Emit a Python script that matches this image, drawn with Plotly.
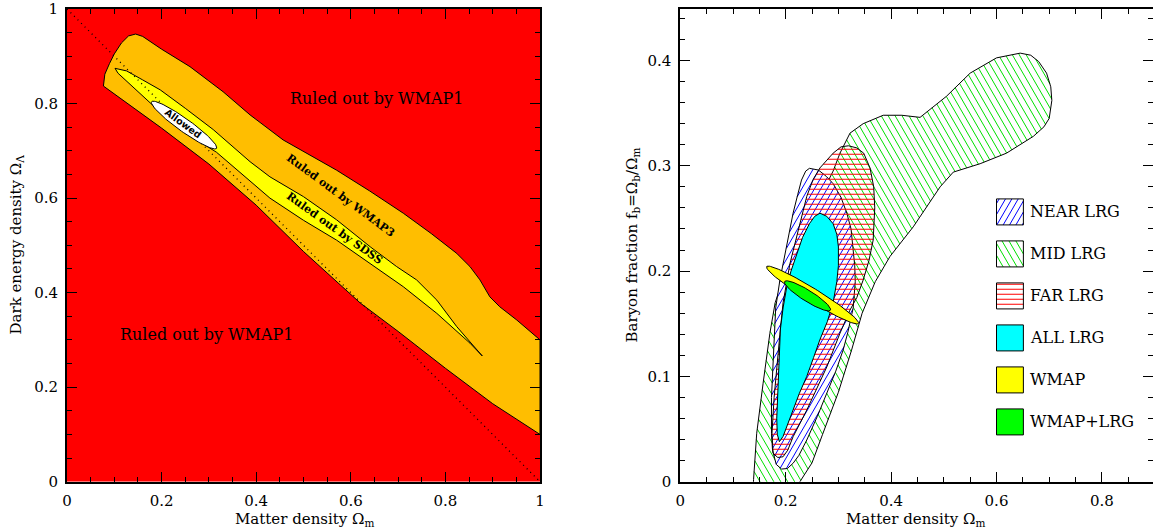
import numpy as np
import plotly.graph_objects as go

W, H = 1153, 531

# ---------------- left panel: Omega_m / Omega_Lambda plane ----------------
wmap3_x = [0.077, 0.080, 0.090, 0.100, 0.115, 0.130, 0.145, 0.160, 0.200, 0.260, 0.330,
           0.387, 0.457, 0.515, 0.570, 0.640, 0.711, 0.770, 0.824, 0.852, 0.873, 0.894,
           0.915, 0.951, 0.980, 1.000, 1.000, 0.900, 0.800, 0.700, 0.620, 0.500, 0.400,
           0.300, 0.200, 0.120, 0.084, 0.077]
wmap3_y = [0.837, 0.862, 0.885, 0.905, 0.928, 0.943, 0.947, 0.942, 0.915, 0.878, 0.825,
           0.776, 0.723, 0.690, 0.659, 0.615, 0.568, 0.525, 0.483, 0.455, 0.427, 0.391,
           0.370, 0.342, 0.318, 0.300, 0.100, 0.165, 0.240, 0.318, 0.378, 0.487, 0.585,
           0.672, 0.748, 0.805, 0.832, 0.837]

sdss_x = [0.1015, 0.126, 0.160, 0.197, 0.250, 0.309, 0.387, 0.429, 0.500, 0.570, 0.641,
          0.697, 0.739, 0.782, 0.824, 0.866, 0.878, 0.852, 0.782, 0.711, 0.641, 0.570,
          0.500, 0.429, 0.316, 0.250, 0.197, 0.150, 0.108, 0.1015]
sdss_y = [0.8745, 0.869, 0.850, 0.829, 0.790, 0.745, 0.677, 0.645, 0.603, 0.554, 0.497,
          0.455, 0.427, 0.384, 0.328, 0.279, 0.266, 0.293, 0.356, 0.4125, 0.462, 0.511,
          0.553, 0.600, 0.697, 0.738, 0.782, 0.825, 0.864, 0.8745]

# "Allowed" ellipse: centre (data), semi-axes (px), tilt (deg, clockwise on screen)
allowed_center = (0.2475, 0.7545)
allowed_axes_px = (40.0, 6.5)
allowed_tilt = 35.6

flat_x = [0.0, 1.0]
flat_y = [1.0, 0.0]

left_ticks = [0, 0.2, 0.4, 0.6, 0.8, 1]
left_ticktext = ["0", "0.2", "0.4", "0.6", "0.8", "1"]

# ---------------- right panel: baryon fraction vs Omega_m ----------------
mid_x = [0.150, 0.138, 0.139, 0.145, 0.157, 0.170, 0.180, 0.200, 0.230, 0.260, 0.280,
         0.290, 0.303, 0.322, 0.347, 0.385, 0.420, 0.455, 0.505, 0.550, 0.600, 0.645,
         0.665, 0.680, 0.695, 0.703, 0.705, 0.700, 0.690, 0.670, 0.619, 0.569, 0.518,
         0.493, 0.442, 0.398, 0.370, 0.345, 0.325, 0.300, 0.270, 0.250, 0.227, 0.210,
         0.180, 0.150]
mid_y = [-0.030, -0.012, 0.002, 0.046, 0.093, 0.141, 0.170, 0.200, 0.235, 0.265, 0.285,
         0.295, 0.312, 0.331, 0.340, 0.348, 0.348, 0.346, 0.366, 0.388, 0.4025, 0.407,
         0.405, 0.399, 0.388, 0.375, 0.362, 0.345, 0.337, 0.328, 0.312, 0.302, 0.294,
         0.280, 0.242, 0.214, 0.190, 0.160, 0.125, 0.085, 0.045, 0.018, 0.000, -0.025,
         -0.035, -0.030]

near_x = [0.245, 0.262, 0.277, 0.290, 0.305, 0.316, 0.324, 0.328, 0.331, 0.332, 0.328,
          0.318, 0.309, 0.295, 0.278, 0.260, 0.240, 0.225, 0.214, 0.203, 0.192, 0.182,
          0.175, 0.173, 0.173, 0.176, 0.178, 0.181, 0.189, 0.202, 0.214, 0.223, 0.230,
          0.238, 0.245]
near_y = [0.2976, 0.296, 0.290, 0.283, 0.270, 0.255, 0.240, 0.223, 0.205, 0.190, 0.165,
          0.142, 0.125, 0.105, 0.084, 0.062, 0.0396, 0.025, 0.0175, 0.0125, 0.012, 0.0165,
          0.030, 0.046, 0.080, 0.109, 0.140, 0.165, 0.1915, 0.223, 0.255, 0.273, 0.2865,
          0.295, 0.2976]

far_x = [0.319, 0.335, 0.348, 0.360, 0.367, 0.369, 0.366, 0.358, 0.347, 0.335, 0.322,
         0.303, 0.278, 0.240, 0.214, 0.204, 0.195, 0.185, 0.176, 0.174, 0.178, 0.183,
         0.189, 0.195, 0.208, 0.224, 0.240, 0.252, 0.265, 0.290, 0.305, 0.319]
far_y = [0.319, 0.317, 0.312, 0.298, 0.280, 0.260, 0.2295, 0.210, 0.1915, 0.175, 0.163,
         0.141, 0.109, 0.068, 0.0427, 0.030, 0.0237, 0.023, 0.027, 0.046, 0.080, 0.109,
         0.140, 0.170, 0.207, 0.239, 0.271, 0.287, 0.298, 0.312, 0.318, 0.319]

all_x = [0.265, 0.278, 0.290, 0.297, 0.300, 0.300, 0.297, 0.290, 0.279, 0.265, 0.253,
         0.240, 0.226, 0.214, 0.203, 0.195, 0.188, 0.184, 0.183, 0.185, 0.187, 0.190,
         0.195, 0.202, 0.210, 0.221, 0.232, 0.245, 0.255, 0.265]
all_y = [0.255, 0.252, 0.245, 0.235, 0.223, 0.205, 0.190, 0.170, 0.152, 0.135, 0.118,
         0.100, 0.084, 0.068, 0.055, 0.043, 0.038, 0.045, 0.060, 0.090, 0.120, 0.145,
         0.165, 0.185, 0.200, 0.215, 0.232, 0.245, 0.252, 0.255]

wmap_center = (0.2509, 0.1773)
wmap_axes_px = (54.0, 6.5)
wmap_tilt = 31.7

joint_center = (0.2414, 0.1765)
joint_axes_px = (27.0, 5.5)
joint_tilt = 32.0

right_xticks = [0, 0.2, 0.4, 0.6, 0.8]
right_xticktext = ["0", "0.2", "0.4", "0.6", "0.8"]
right_yticks = [0, 0.1, 0.2, 0.3, 0.4]
right_yticktext = ["0", "0.1", "0.2", "0.3", "0.4"]

legend_labels = ["NEAR LRG", "MID LRG", "FAR LRG", "ALL LRG", "WMAP", "WMAP+LRG"]

# ---------------- geometry of the two panels ----------------
PLOT_TOP, PLOT_BOTTOM = 9.0, 481.7
L_LEFT, L_RIGHT = 67.0, 540.0
R_LEFT = 680.3
R_PX_PER_X = 527.0
R_PX_PER_Y = 1053.0
R_XMAX = (W - R_LEFT) / R_PX_PER_X
R_YMAX = (PLOT_BOTTOM - PLOT_TOP) / R_PX_PER_Y
L_PX_PER_X = (L_RIGHT - L_LEFT) / 1.0
L_PX_PER_Y = (PLOT_BOTTOM - PLOT_TOP) / 1.0

ydom = [(H - PLOT_BOTTOM) / H, (H - PLOT_TOP) / H]

SERIF = "DejaVu Serif"
ORANGE = "#ffbe00"

# hatch styles: (line angle in screen degrees, perpendicular spacing px, colour, width)
HATCH_NEAR = (60.0, 5.5, "#0000ff", 1.0)
HATCH_MID = (120.0, 6.0, "#00e000", 1.0)
HATCH_FAR = (0.0, 5.0, "#ff0000", 1.1)


def ellipse(center, axes_px, tilt_deg, sx, sy, n=120):
    t = np.linspace(0, 2 * np.pi, n)
    a, b = axes_px
    th = np.radians(tilt_deg)
    u, v = a * np.cos(t), b * np.sin(t)
    dx = u * np.cos(th) - v * np.sin(th)
    dy = u * np.sin(th) + v * np.cos(th)
    return center[0] + dx / sx, center[1] - dy / sy


def hatch(xs, ys, style, sx, sy):
    """Parallel hatch segments clipped to a polygon, laid out in screen pixels."""
    ang, gap = np.radians(style[0]), style[1]
    px = np.asarray(xs) * sx
    py = np.asarray(ys) * sy
    d = np.array([np.cos(ang), np.sin(ang)])
    nrm = np.array([-np.sin(ang), np.cos(ang)])
    proj_n = px * nrm[0] + py * nrm[1]
    out_x, out_y = [], []
    k0 = int(np.floor(proj_n.min() / gap))
    k1 = int(np.ceil(proj_n.max() / gap))
    for k in range(k0, k1 + 1):
        c = k * gap + 0.5 * gap
        hits = []
        for i in range(len(px) - 1):
            a1, a2 = proj_n[i] - c, proj_n[i + 1] - c
            if a1 * a2 < 0:
                t = a1 / (a1 - a2)
                hx = px[i] + t * (px[i + 1] - px[i])
                hy = py[i] + t * (py[i + 1] - py[i])
                hits.append((hx * d[0] + hy * d[1], hx, hy))
        hits.sort()
        for j in range(0, len(hits) - 1, 2):
            out_x += [hits[j][1] / sx, hits[j + 1][1] / sx, None]
            out_y += [hits[j][2] / sy, hits[j + 1][2] / sy, None]
    return out_x, out_y


def add_region(xs, ys, axes, fill=None, hatch_style=None, sx=1.0, sy=1.0):
    xa, ya = axes
    if fill is not None:
        fig.add_trace(go.Scatter(x=xs, y=ys, fill="toself", fillcolor=fill, mode="lines",
                                 line=dict(width=0, color=fill), xaxis=xa, yaxis=ya,
                                 hoverinfo="skip"))
    if hatch_style is not None:
        hx, hy = hatch(xs, ys, hatch_style, sx, sy)
        fig.add_trace(go.Scatter(x=hx, y=hy, mode="lines",
                                 line=dict(color=hatch_style[2], width=hatch_style[3]),
                                 xaxis=xa, yaxis=ya, hoverinfo="skip"))
    fig.add_trace(go.Scatter(x=xs, y=ys, mode="lines", line=dict(color="black", width=1),
                             xaxis=xa, yaxis=ya, hoverinfo="skip"))


fig = go.Figure()
LEFT = ("x", "y")
RIGHT = ("x2", "y2")

# left panel layers
add_region(wmap3_x, wmap3_y, LEFT, fill=ORANGE)
add_region(sdss_x, sdss_y, LEFT, fill="#ffff00")
fig.add_trace(go.Scatter(x=flat_x, y=flat_y, mode="lines",
                         line=dict(color="black", width=1.3, dash="1px,4px"),
                         xaxis="x", yaxis="y", hoverinfo="skip"))
ex, ey = ellipse(allowed_center, allowed_axes_px, allowed_tilt, L_PX_PER_X, L_PX_PER_Y)
add_region(list(ex), list(ey), LEFT, fill="white")

# right panel layers
add_region(mid_x, mid_y, RIGHT, hatch_style=HATCH_MID, sx=R_PX_PER_X, sy=R_PX_PER_Y)
add_region(near_x, near_y, RIGHT, fill="white", hatch_style=HATCH_NEAR, sx=R_PX_PER_X, sy=R_PX_PER_Y)
add_region(far_x, far_y, RIGHT, hatch_style=HATCH_FAR, sx=R_PX_PER_X, sy=R_PX_PER_Y)
add_region(all_x, all_y, RIGHT, fill="#00ffff")
wx, wy = ellipse(wmap_center, wmap_axes_px, wmap_tilt, R_PX_PER_X, R_PX_PER_Y)
add_region(list(wx), list(wy), RIGHT, fill="#ffff00")
jx, jy = ellipse(joint_center, joint_axes_px, joint_tilt, R_PX_PER_X, R_PX_PER_Y)
add_region(list(jx), list(jy), RIGHT, fill="#00ff00")

# legend swatches inside the right panel
swatch_styles = [
    dict(fill="white", hatch_style=HATCH_NEAR),
    dict(fill="white", hatch_style=HATCH_MID),
    dict(fill="white", hatch_style=HATCH_FAR),
    dict(fill="#00ffff"),
    dict(fill="#ffff00"),
    dict(fill="#00ff00"),
]
box_x0, box_x1 = 0.600, 0.651
box_h = 26.0 / R_PX_PER_Y
row_top = 0.2562
row_step = 42.0 / R_PX_PER_Y
annotations = []
for i, (label, style) in enumerate(zip(legend_labels, swatch_styles)):
    cy = row_top - i * row_step
    bx = [box_x0, box_x1, box_x1, box_x0, box_x0]
    by = [cy - box_h / 2, cy - box_h / 2, cy + box_h / 2, cy + box_h / 2, cy - box_h / 2]
    add_region(bx, by, RIGHT, sx=R_PX_PER_X, sy=R_PX_PER_Y, **style)
    annotations.append(dict(x=0.659, y=cy, xref="x2", yref="y2", text=label, showarrow=False,
                            xanchor="left", yanchor="middle",
                            font=dict(family=SERIF, size=16, color="black")))

# text labels in the left panel
annotations += [
    dict(x=0.655, y=0.81, xref="x", yref="y", text="Ruled out by WMAP1", showarrow=False,
         font=dict(family=SERIF, size=16, color="black")),
    dict(x=0.294, y=0.312, xref="x", yref="y", text="Ruled out by WMAP1", showarrow=False,
         font=dict(family=SERIF, size=16, color="black")),
    dict(x=0.578, y=0.605, xref="x", yref="y", text="<b>Ruled out by WMAP3</b>", showarrow=False,
         textangle=36.5, font=dict(family=SERIF, size=11, color="black")),
    dict(x=0.566, y=0.536, xref="x", yref="y", text="<b>Ruled out by SDSS</b>", showarrow=False,
         textangle=35.6, font=dict(family=SERIF, size=11, color="black")),
    dict(x=0.246, y=0.758, xref="x", yref="y", text="<b>Allowed</b>", showarrow=False,
         textangle=36, font=dict(family="DejaVu Sans", size=9.5, color="black")),
]

# axis titles
annotations += [
    dict(x=305 / W, y=1 - 508 / H, xref="paper", yref="paper", showarrow=False,
         xanchor="center", yanchor="top",
         text="Matter density Ω<sub>m</sub>", font=dict(family=SERIF, size=15, color="black")),
    dict(x=916 / W, y=1 - 508 / H, xref="paper", yref="paper", showarrow=False,
         xanchor="center", yanchor="top",
         text="Matter density Ω<sub>m</sub>", font=dict(family=SERIF, size=15, color="black")),
    dict(x=5 / W, y=1 - 245 / H, xref="paper", yref="paper", showarrow=False, textangle=-90,
         xanchor="left", yanchor="middle",
         text="Dark energy density Ω<sub>Λ</sub>", font=dict(family=SERIF, size=15, color="black")),
    dict(x=621 / W, y=1 - 245 / H, xref="paper", yref="paper", showarrow=False, textangle=-90,
         xanchor="left", yanchor="middle",
         text="Baryon fraction f<sub>b</sub>=Ω<sub>b</sub>/Ω<sub>m</sub>",
         font=dict(family=SERIF, size=15, color="black")),
]

axis_common = dict(showgrid=False, zeroline=False, showline=True, linecolor="black", linewidth=2,
                   mirror="ticks", ticks="inside", ticklen=10, tickwidth=1, tickcolor="black",
                   automargin=False, ticklabelstandoff=4,
                   tickfont=dict(family=SERIF, size=15, color="black"))

fig.update_layout(
    width=W, height=H,
    margin=dict(l=0, r=0, t=0, b=0, autoexpand=False),
    paper_bgcolor="white", plot_bgcolor="white",
    showlegend=False,
    shapes=[dict(type="rect", xref="x", yref="y", x0=0, x1=1, y0=0, y1=1,
                 fillcolor="#ff0000", line=dict(width=0), layer="below")],
    xaxis=dict(domain=[L_LEFT / W, L_RIGHT / W], range=[0, 1], anchor="y",
               tickvals=left_ticks, ticktext=left_ticktext,
               minor=dict(dtick=0.05, ticks="inside", ticklen=5, tickcolor="black"), **axis_common),
    yaxis=dict(domain=ydom, range=[0, 1], anchor="x",
               tickvals=left_ticks, ticktext=left_ticktext,
               minor=dict(dtick=0.05, ticks="inside", ticklen=5, tickcolor="black"), **axis_common),
    xaxis2=dict(domain=[R_LEFT / W, 1.0], range=[0, R_XMAX], anchor="y2",
                tickvals=right_xticks, ticktext=right_xticktext,
                minor=dict(dtick=0.05, ticks="inside", ticklen=5, tickcolor="black"), **axis_common),
    yaxis2=dict(domain=ydom, range=[0, R_YMAX], anchor="x2",
                tickvals=right_yticks, ticktext=right_yticktext,
                minor=dict(dtick=0.02, ticks="inside", ticklen=5, tickcolor="black"), **axis_common),
    annotations=annotations,
)

fig.write_html("out.html")
